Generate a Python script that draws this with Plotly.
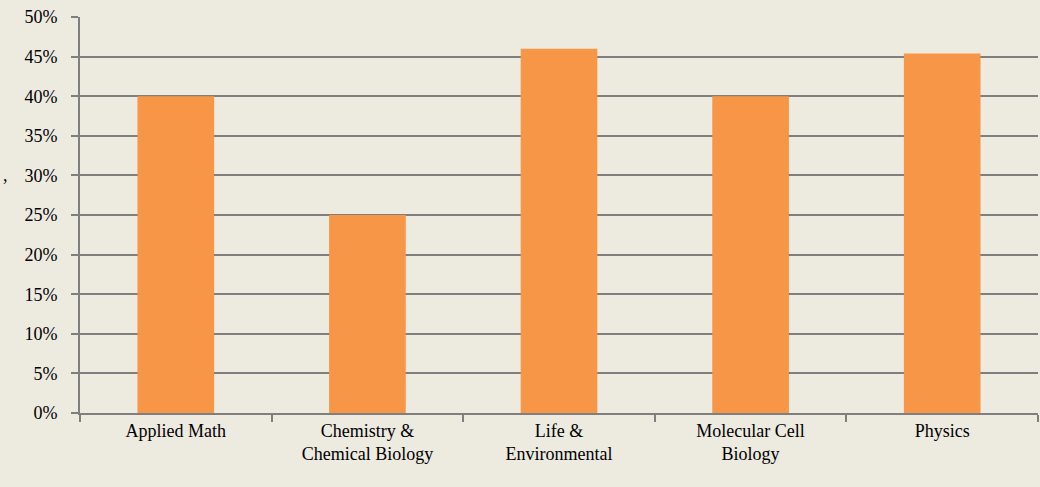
import plotly.graph_objects as go

categories = ["Applied Math", "Chemistry &<br>Chemical Biology", "Life &<br>Environmental",
              "Molecular Cell<br>Biology", "Physics"]
values = [0.40, 0.25, 0.46, 0.40, 0.454]
y_ticks = [0, 0.05, 0.10, 0.15, 0.20, 0.25, 0.30, 0.35, 0.40, 0.45, 0.50]
y_labels = [f"{int(round(v*100))}%" for v in y_ticks]

BG = "#EDEAE0"
GRID = "#7F7F7F"
FONT = "Liberation Serif"

fig = go.Figure()
fig.add_trace(go.Bar(
    x=categories, y=values,
    marker=dict(color="#F79646", line=dict(width=0)),
))

fig.update_layout(
    width=1040, height=487,
    paper_bgcolor=BG, plot_bgcolor=BG,
    margin=dict(l=80, r=2, t=17, b=74),
    bargap=0.6,
    showlegend=False,
    font=dict(family=FONT, size=18, color="#000000"),
    xaxis=dict(
        type="category",
        tickson="boundaries",
        ticks="outside", ticklen=7, tickcolor=GRID, tickwidth=1.5,
        showline=True, linecolor=GRID, linewidth=2,
        showgrid=False,
        tickfont=dict(family=FONT, size=18),
    ),
    yaxis=dict(
        range=[0, 0.5],
        tickvals=y_ticks, ticktext=y_labels,
        ticks="outside", ticklen=7, tickcolor=GRID, tickwidth=1.5,
        ticklabelstandoff=10,
        showline=True, linecolor=GRID, linewidth=2,
        showgrid=True, gridcolor=GRID, gridwidth=1.5,
        zeroline=False,
        tickfont=dict(family=FONT, size=18),
    ),
    annotations=[
        dict(text=",", xref="paper", yref="paper", x=-0.082, y=0.6,
             xanchor="left", yanchor="middle", showarrow=False,
             font=dict(family=FONT, size=18)),
    ],
)

fig.write_html(
    "out.html",
    config={"displayModeBar": False},
    post_script="document.body.style.margin='0px';document.body.style.background='#EDEAE0';",
)
